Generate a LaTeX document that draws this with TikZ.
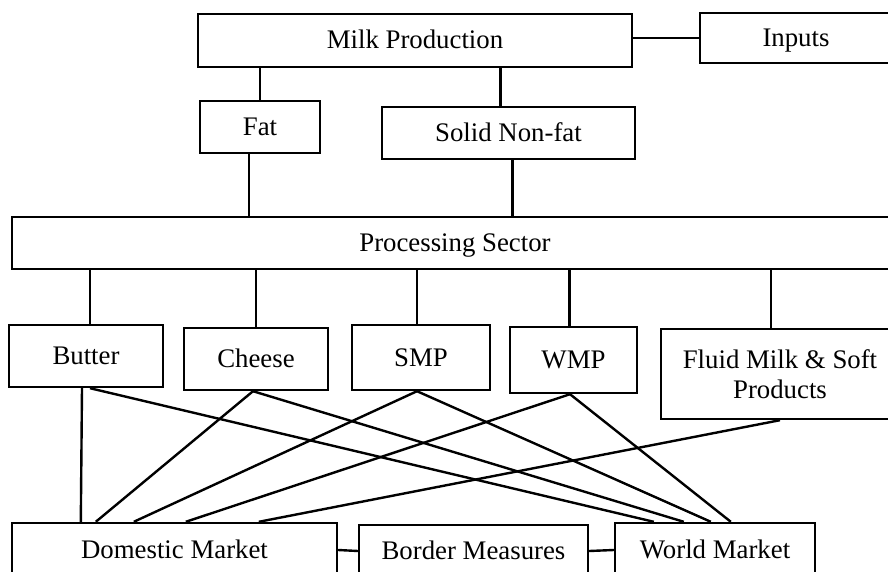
\documentclass[tikz,border=0pt]{standalone}
\usepackage{fontspec}
\setmainfont{Liberation Serif}
\begin{document}
\begin{tikzpicture}[
x=0.5pt,y=-0.5pt,
box/.style={%
draw,
line width=1.2pt,
inner sep=0pt,
text height=9.5pt,
text depth=1pt,
font=\fontsize{13.4}{15}\selectfont
},
link/.style={line width=1.2pt}
]
\useasboundingbox(0,0)rectangle(888,572);
\clip(0,0)rectangle(888,572);
%% Production
\node[box,minimum width=217pt,minimum height=26.5pt]at(415,40.5)(milk){Milk Production};
\node[box,minimum width=96pt,minimum height=25pt]at(796,38)(inp){Inputs};
\draw[link](milk.east|-inp.west)--(inp.west);
%% Components
\node[box,minimum width=60pt,minimum height=26pt]at(260,127)(fat){Fat};
\node[box,minimum width=126.5pt,minimum height=26pt]at(508.5,133)(snf){Solid Non-fat};
\draw[link](fat.north)--(fat.north|-milk.south);
\draw[link]([xshift=-4pt]snf.north)--([xshift=-4pt]snf.north|-milk.south);
%% Processing
\node[box,minimum width=443pt,minimum height=26pt]at(455,243)(proc){Processing Sector};
\draw[link]([xshift=-5.5pt]fat.south)--([xshift=-5.5pt]fat.south|-proc.north);
\draw[link]([xshift=2pt]snf.south)--([xshift=2pt]snf.south|-proc.north);
%% Products
\node[box,minimum width=77pt,minimum height=31pt]at(86,356)(butter){Butter};
\node[box,minimum width=72pt,minimum height=31pt]at(256,359)(cheese){Cheese};
\node[box,minimum width=69pt,minimum height=32.5pt]at(421,357.5)(smp){SMP};
\node[box,minimum width=63.5pt,minimum height=33pt]at(573.5,360)(wmp){WMP};
\node[box,minimum width=119pt,minimum height=45pt,text height=,text depth=,align=center]at(780,374)(fluid){Fluid Milk \& Soft\\Products};
\draw[link]([xshift=2pt]butter.north)--([xshift=2pt]butter.north|-proc.south);
\draw[link](cheese.north)--(cheese.north|-proc.south);
\draw[link]([xshift=-2pt]smp.north)--([xshift=-2pt]smp.north|-proc.south);
\draw[link]([xshift=-2pt]wmp.north)--([xshift=-2pt]wmp.north|-proc.south);
\draw[link]([xshift=-4.5pt]fluid.north)--([xshift=-4.5pt]fluid.north|-proc.south);
%% Markets
\node[box,minimum width=162.5pt,minimum height=27pt]at(174.5,550)(dom){Domestic Market};
\node[box,minimum width=114.5pt,minimum height=26pt]at(473.5,551)(bm){Border Measures};
\node[box,minimum width=100pt,minimum height=27pt]at(715,550)(world){World Market};
\draw[link](dom.east)--(bm.west);
\draw[link](bm.east)--(world.west);
%% Trade flows
\draw[link]([xshift=-2pt]butter.south)--([xshift=35pt]dom.north west);
\draw[link]([xshift=2pt]butter.south)--([xshift=20pt]world.north west);
\draw[link]([xshift=-1.5pt]cheese.south)--([xshift=42.5pt]dom.north west);
\draw[link]([xshift=-1.5pt]cheese.south)--([xshift=35pt]world.north west);
\draw[link]([xshift=-2pt]smp.south)--([xshift=61.5pt]dom.north west);
\draw[link]([xshift=-2pt]smp.south)--([xshift=48.5pt]world.north west);
\draw[link]([xshift=-1.75pt]wmp.south)--([xshift=87.5pt]dom.north west);
\draw[link]([xshift=-1.75pt]wmp.south)--([xshift=58.5pt]world.north west);
\draw[link](fluid.south)--([xshift=124pt]dom.north west);
\end{tikzpicture}
\end{document}
